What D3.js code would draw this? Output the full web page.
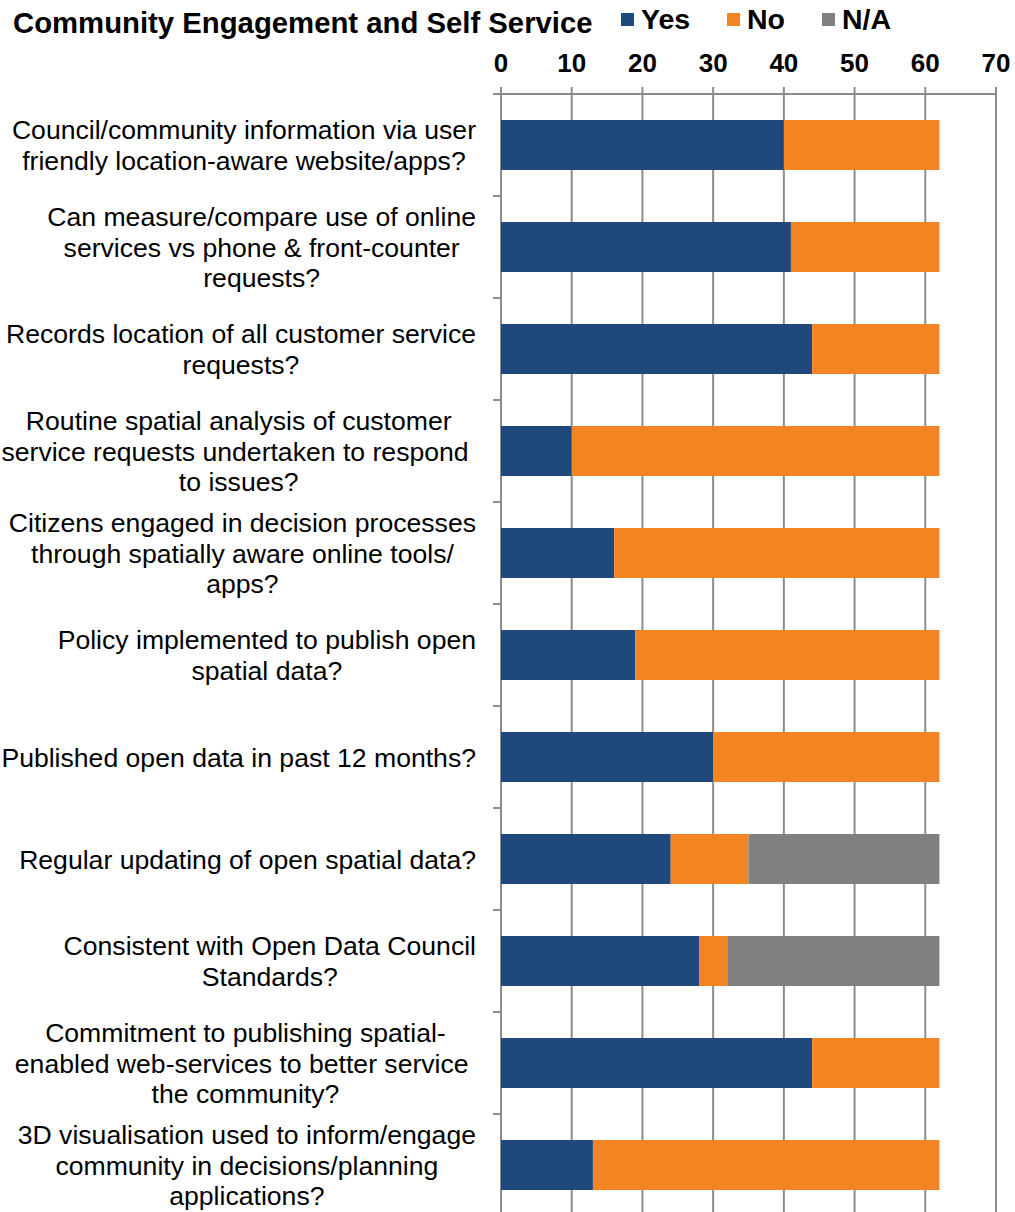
<!DOCTYPE html>
<html><head><meta charset="utf-8">
<script src="https://cdn.jsdelivr.net/npm/d3@7"></script>
<style>
body{margin:0;background:#fff;}
text{font-family:"Liberation Sans",Arial,sans-serif;white-space:pre;}
</style></head>
<body><svg id="c" width="1015" height="1212"></svg>
<script>
const title = "Community Engagement and Self Service";
const categories = [
  ["Council/community information via user","friendly location-aware website/apps?"],
  ["Can measure/compare use of online","services vs phone & front-counter","requests?"],
  ["Records location of all customer service","requests?"],
  ["Routine spatial analysis of customer","service requests undertaken to respond ","to issues?"],
  ["Citizens engaged in decision processes","through spatially aware online tools/","apps?"],
  ["Policy implemented to publish open","spatial data?"],
  ["Published open data in past 12 months?"],
  ["Regular updating of open spatial data?"],
  ["Consistent with Open Data Council","Standards?"],
  ["Commitment to publishing spatial-","enabled web-services to better service ","the community?"],
  ["3D visualisation used to inform/engage","community in decisions/planning","applications?"]
];
const seriesNames = ["Yes","No","N/A"];
const yesValues = [40,41,44,10,16,19,30,24,28,44,13];
const noValues  = [22,21,18,52,46,43,32,11,4,18,49];
const naValues  = [0,0,0,0,0,0,0,27,30,0,0];
const xTicks = [0,10,20,30,40,50,60,70];
const colors = ["#1f497d","#f28522","#808080"];

const svg = d3.select("#c");
const x = d3.scaleLinear().domain([0,70]).range([501,996]);
const idx = d3.range(categories.length);
const y = d3.scaleBand().domain(idx).range([94,1216]).paddingInner(0.51).paddingOuter(0.255);
const yEdges = d3.scaleBand().domain(idx).range([94,1216]);

const rows = idx.map(i => ({i, Yes:yesValues[i], No:noValues[i], "N/A":naValues[i]}));
const stack = d3.stack().keys(seriesNames)(rows);

// gridlines
svg.append("g").selectAll("line").data(xTicks).join("line")
  .attr("x1",d=>x(d)).attr("x2",d=>x(d)).attr("y1",87).attr("y2",1216)
  .attr("stroke","#8c8c8c").attr("stroke-width",2);

// top axis line
svg.append("line").attr("x1",493).attr("x2",x(70)+1).attr("y1",94).attr("y2",94)
  .attr("stroke","#8c8c8c").attr("stroke-width",2);
// left tick marks
svg.append("g").selectAll("line").data(idx.slice(1)).join("line")
  .attr("x1",493).attr("x2",x(0)).attr("y1",d=>yEdges(d)).attr("y2",d=>yEdges(d))
  .attr("stroke","#8c8c8c").attr("stroke-width",2);

// bars
svg.append("g").selectAll("g").data(stack).join("g")
  .attr("fill",(d,k)=>colors[k])
  .selectAll("rect").data(d=>d.filter(s=>s[1]-s[0]>0)).join("rect")
  .attr("x",d=>x(d[0])).attr("width",d=>x(d[1])-x(d[0]))
  .attr("y",d=>y(d.data.i)).attr("height",y.bandwidth());

// tick labels
svg.append("g").selectAll("text").data(xTicks).join("text")
  .attr("x",d=>x(d)).attr("y",71.5).attr("text-anchor","middle")
  .attr("font-size",26).attr("font-weight","bold").attr("fill","#000").text(d=>d);

// category labels
const labG = svg.append("g");
categories.forEach((lines,i)=>{
  const g = labG.append("g");
  const lh = 30.8;
  const cy = yEdges(i) + yEdges.bandwidth()/2;
  const ts = lines.map((l,j)=>g.append("text").attr("font-size",26.6).attr("fill","#000")
     .attr("text-anchor","middle").attr("y", cy + (j-(lines.length-1)/2)*lh + 9.5).text(l));
  const w = d3.max(ts, t=>t.node().getComputedTextLength());
  const cx = 476 - w/2;
  ts.forEach(t=>t.attr("x",cx));
});

// title
svg.append("text").attr("x",13).attr("y",33).attr("font-size",29.3).attr("font-weight","bold")
  .attr("fill","#000").text(title);

// legend
const legX = [621,727,822];
seriesNames.forEach((n,k)=>{
  svg.append("rect").attr("x",legX[k]).attr("y",13).attr("width",13).attr("height",13).attr("fill",colors[k]);
  svg.append("text").attr("x",legX[k]+20).attr("y",29).attr("font-size",28.5).attr("font-weight","bold").attr("fill","#000").text(n);
});
</script></body></html>
